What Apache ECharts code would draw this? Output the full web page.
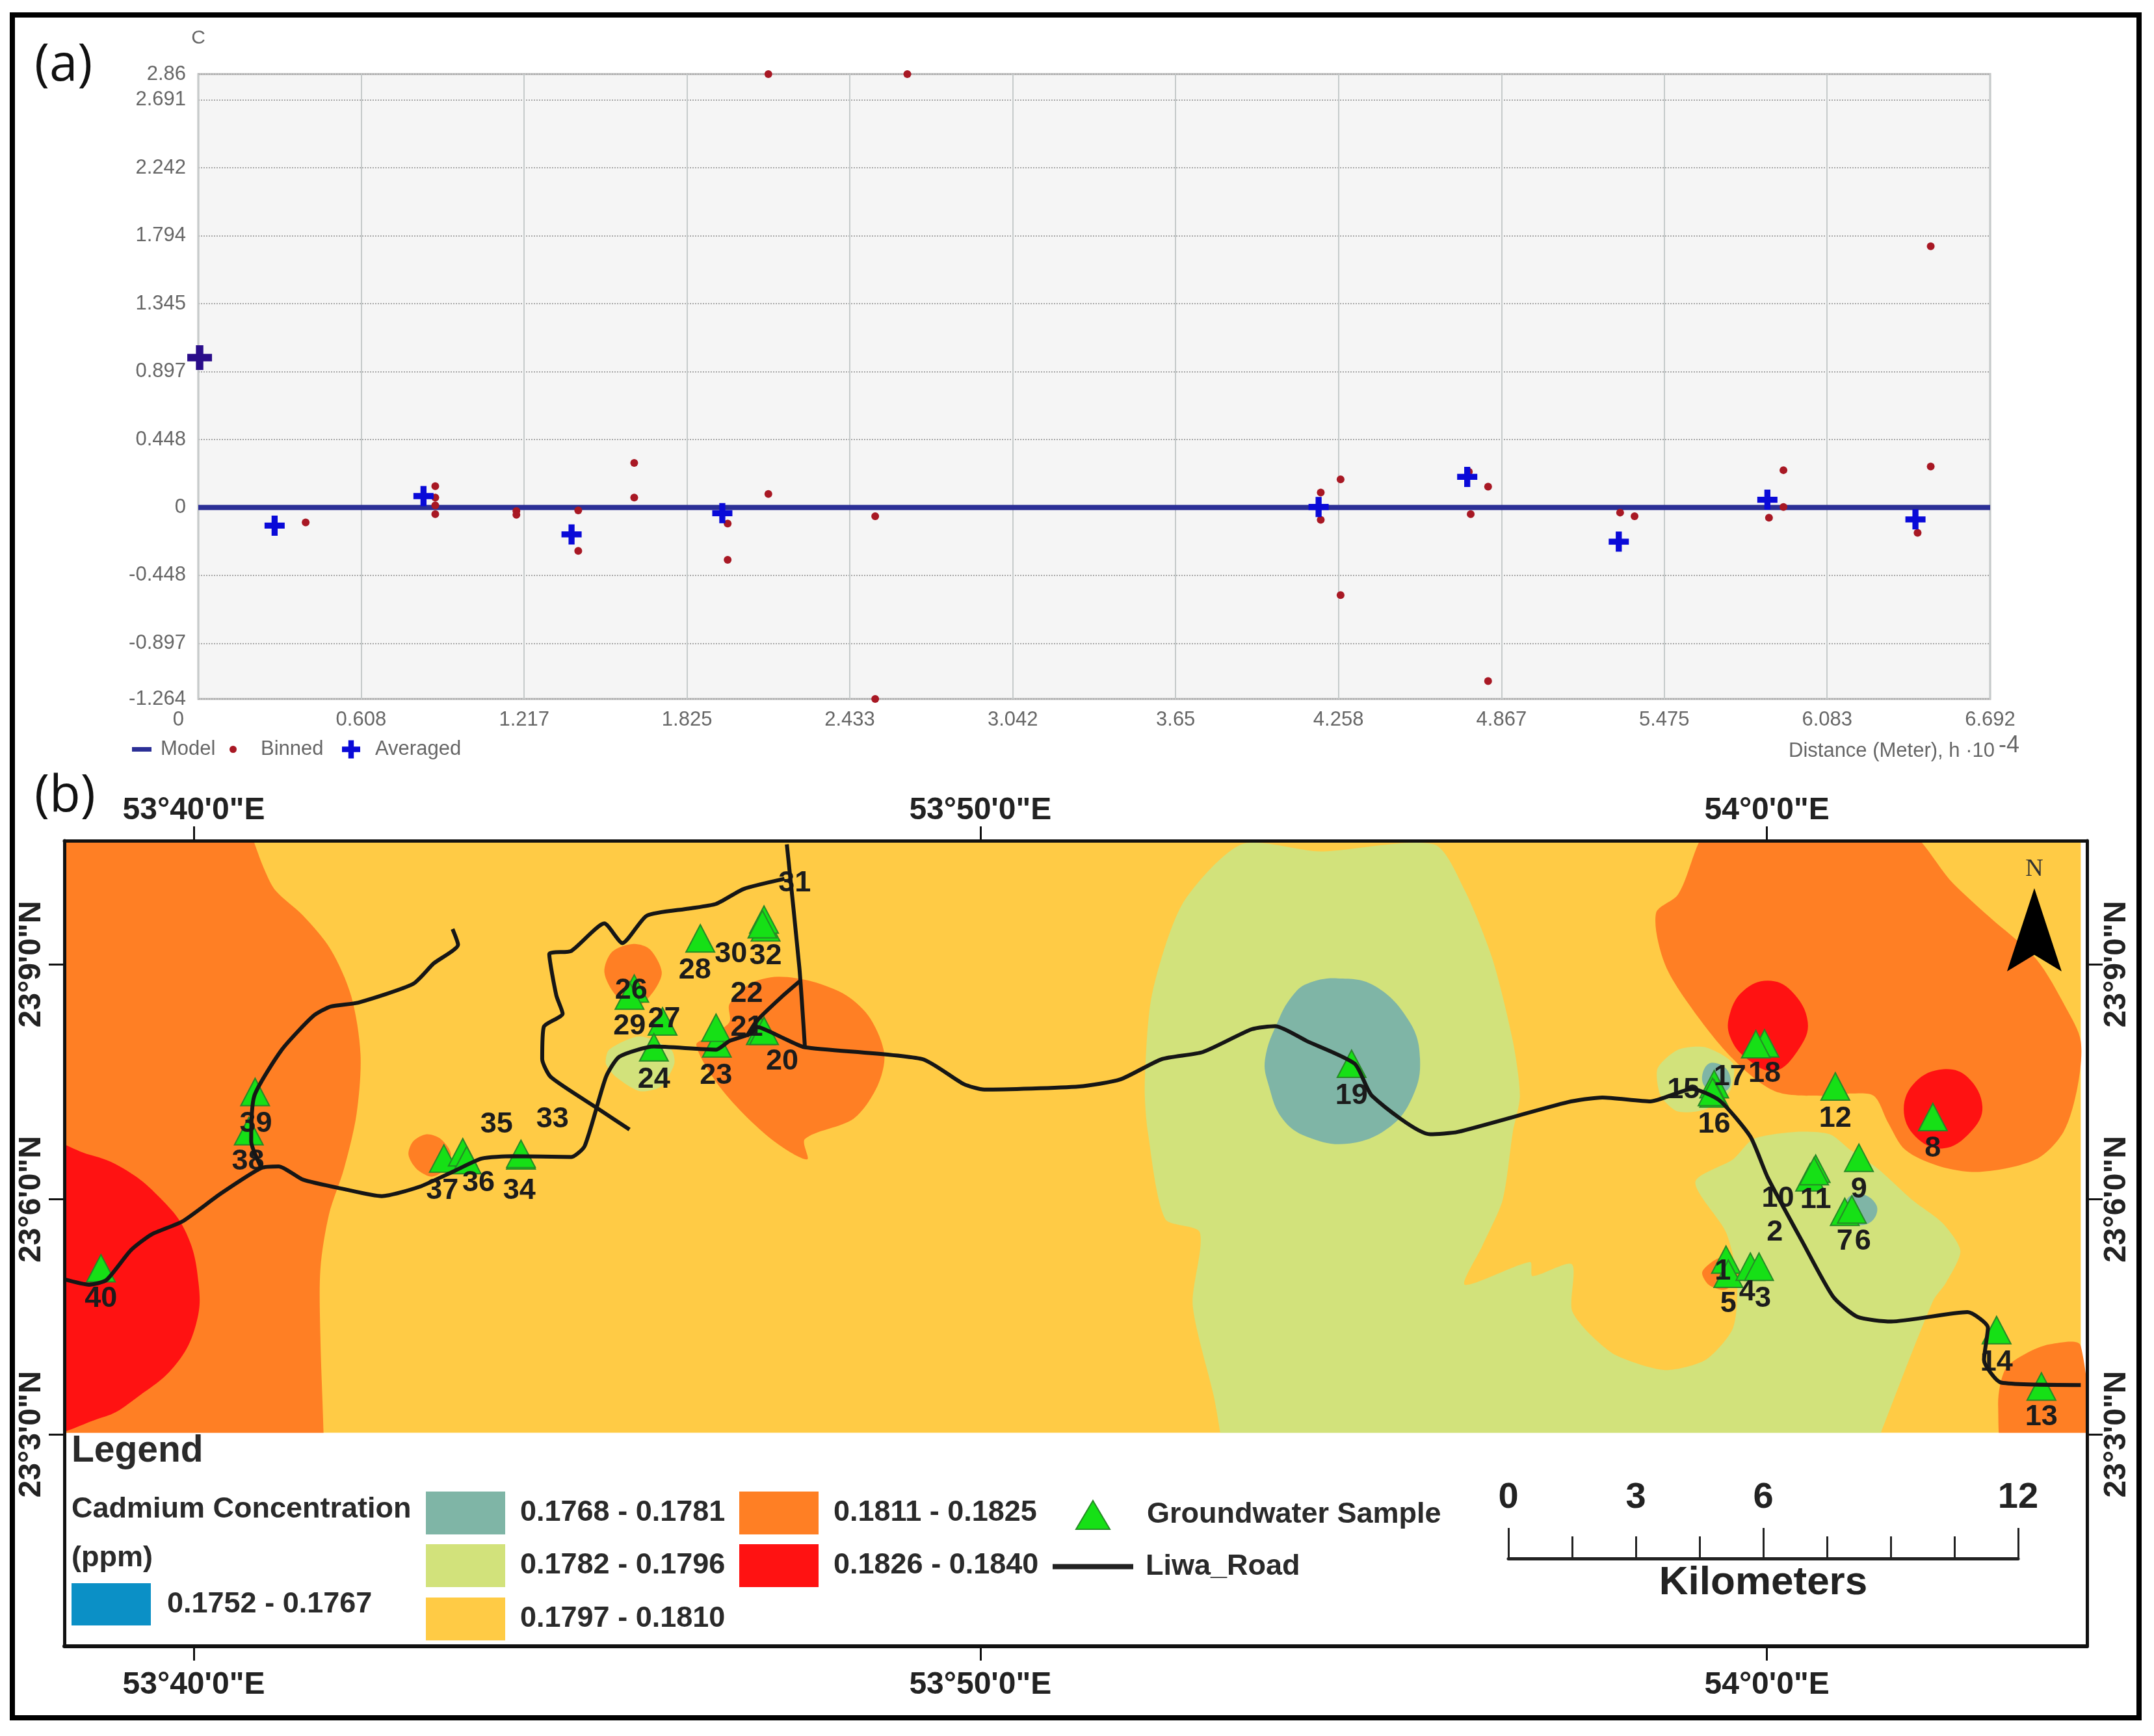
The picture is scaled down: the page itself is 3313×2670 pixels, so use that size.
<!DOCTYPE html>
<html>
<head>
    <meta charset="utf-8">
    <title>Cadmium semivariogram and map</title>
    <script src="https://cdn.jsdelivr.net/npm/echarts@6/dist/echarts.min.js"></script>
    <style>
        html, body { margin: 0; padding: 0; background: #fff; }
        #chart { width: 3313px; height: 2670px; }
    </style>
</head>
<body>
<div id="chart"></div>
<script>
    // (a) semivariogram, values
    var distTicks = [0, 0.608, 1.217, 1.825, 2.433, 3.042, 3.65, 4.258, 4.867, 5.475, 6.083, 6.692];
    var gammaTicks = [-1.264, -0.897, -0.448, 0, 0.448, 0.897, 1.345, 1.794, 2.242, 2.691, 2.86];
    var modelLine = [[0, 0], [6.692, 0]];
    var binned = [
        [0.005, 0.989], [0.401, -0.099], [0.885, 0.14], [0.885, 0.065], [0.885, 0.014], [0.885, -0.044],
        [1.188, -0.024], [1.188, -0.048], [1.419, -0.02], [1.419, -0.287], [1.628, 0.294], [1.628, 0.065],
        [1.977, -0.106], [1.977, -0.346], [2.129, 2.86], [2.129, 0.089], [2.648, 2.86], [2.528, -0.058],
        [2.528, -1.264], [4.192, 0.099], [4.192, -0.082], [4.266, 0.185], [4.266, -0.578], [4.745, 0.236],
        [4.752, -0.044], [4.817, 0.137], [4.817, -1.146], [5.31, -0.034], [5.364, -0.058], [5.866, -0.068],
        [5.92, 0.246], [5.92, 0.003], [6.421, -0.168], [6.47, 1.724], [6.47, 0.27]
    ];
    var averaged = [
        [0.005, 0.989], [0.285, -0.12], [0.841, 0.075], [1.394, -0.178], [1.957, -0.038], [4.184, 0.003],
        [4.739, 0.202], [5.305, -0.226], [5.86, 0.051], [6.413, -0.079]
    ];

    // (b) map, x = minutes past 53 deg E, y = minutes past 23 deg N
    var lonTicks = [40, 50, 60];
    var lonTickLabels = ['53°40\'0"E', '53°50\'0"E', '54°0\'0"E'];
    var latTicks = [3, 6, 9];
    var latTickLabels = ['23°3\'0"N', '23°6\'0"N', '23°9\'0"N'];

    var zoneYellow = [[[38.355, 10.577], [63.99, 10.577], [63.99, 3.02], [38.355, 3.02]]];
    var zoneGreen = [
        [[53.32, 10.53], [54.32, 10.44], [55.77, 10.53], [56.16, 9.94], [56.51, 9.07], [56.77, 8.02], [56.86, 7.32], [56.77, 6.86],
            [56.64, 5.99], [56.38, 5.40], [56.16, 4.91], [56.99, 5.20], [57.02, 5.02], [57.52, 5.17], [57.52, 4.59], [57.73, 4.30],
            [58.08, 4.01], [58.70, 3.82], [59.22, 3.95], [59.57, 4.36], [59.62, 4.99], [59.48, 5.58], [59.09, 6.22], [59.57, 6.51],
            [59.83, 6.77], [60.36, 6.86], [60.80, 6.83], [61.06, 6.63], [61.41, 6.39], [61.85, 5.99], [62.24, 5.69], [62.46, 5.34],
            [62.28, 4.94], [62.11, 4.70], [61.45, 3.02], [61.3, 2.6], [53.1, 2.6], [53.05, 3.02], [52.97, 3.48], [52.70, 4.65], [52.79, 5.58],
            [52.35, 5.75], [52.13, 6.86], [52.09, 7.44], [52.18, 8.60], [52.57, 9.77]],
        [[45.28, 7.91], [45.67, 8.08], [46.07, 7.91], [46.11, 7.73], [45.94, 7.44], [45.67, 7.38], [45.37, 7.56], [45.24, 7.73]],
        [[58.61, 7.67], [58.87, 7.91], [59.22, 7.94], [59.57, 7.73], [59.53, 7.38], [59.22, 7.15], [58.87, 7.12], [58.65, 7.32]]
    ];
    var zoneOrange = [
        [[38.0, 10.8], [40.7, 10.8], [40.76, 10.58], [40.91, 10.18], [41.04, 9.94], [41.39, 9.62], [41.74, 9.19], [42.00, 8.60], [42.12, 7.85],
            [42.07, 7.09], [41.91, 6.39], [41.72, 5.81], [41.61, 5.11], [41.61, 4.24], [41.65, 3.02], [41.65, 2.6], [38.0, 2.6]],
        [[42.96, 6.83], [43.14, 6.77], [43.27, 6.57], [43.14, 6.34], [43.01, 6.29], [42.83, 6.39], [42.73, 6.57], [42.79, 6.74]],
        [[45.59, 9.26], [45.80, 9.19], [45.95, 8.90], [45.85, 8.66], [45.63, 8.46], [45.37, 8.60], [45.22, 8.90], [45.32, 9.16]],
        [[46.81, 8.49], [47.07, 8.75], [47.42, 8.84], [47.86, 8.78], [48.30, 8.60], [48.60, 8.31], [48.78, 7.85], [48.69, 7.44], [48.39, 7.03],
            [47.77, 6.77], [47.80, 6.51], [47.42, 6.71], [46.99, 7.09], [46.64, 7.50], [46.39, 7.97], [46.55, 8.08], [46.81, 8.26]],
        [[59.35, 10.8], [61.65, 10.8], [62.37, 10.03], [62.81, 9.62], [63.42, 9.07], [63.81, 8.43], [63.99, 8.02], [63.95, 7.44], [63.77, 6.86],
            [63.42, 6.51], [62.72, 6.35], [62.20, 6.42], [61.76, 6.63], [61.54, 6.98], [61.36, 7.32], [61.06, 7.35], [60.71, 7.32], [60.10, 7.38],
            [59.57, 7.79], [59.05, 8.43], [58.70, 9.01], [58.59, 9.65], [58.87, 9.89]],
        [[59.44, 5.26], [59.18, 5.08], [59.26, 4.91], [59.48, 4.85], [59.66, 5.05]],
        [[63.60, 4.15], [63.99, 4.13], [63.99, 2.6], [63.07, 2.6], [62.94, 3.36], [63.03, 3.83], [63.29, 4.03]]
    ];
    var zoneRed = [
        [[38.0, 6.7], [38.67, 6.57], [39.11, 6.39], [39.55, 6.04], [39.90, 5.58], [40.06, 4.94], [40.03, 4.41], [39.77, 3.89], [39.29, 3.48], [38.85, 3.22], [38.0, 3.1]],
        [[60.01, 8.79], [60.31, 8.66], [60.52, 8.26], [60.40, 7.91], [60.10, 7.64], [59.75, 7.79], [59.53, 8.08], [59.53, 8.37], [59.70, 8.66]],
        [[62.24, 7.66], [62.55, 7.56], [62.74, 7.18], [62.59, 6.86], [62.24, 6.65], [61.89, 6.80], [61.74, 7.15], [61.89, 7.50]]
    ];
    var zoneTeal = [
        [[54.15, 8.75], [54.54, 8.82], [55.02, 8.72], [55.46, 8.26], [55.59, 7.79], [55.50, 7.32], [55.20, 6.92], [54.67, 6.71], [54.15, 6.80],
            [53.84, 7.03], [53.67, 7.44], [53.62, 7.79], [53.80, 8.31], [53.97, 8.60]],
        [[59.26, 7.73], [59.48, 7.67], [59.53, 7.44], [59.35, 7.35], [59.18, 7.50]],
        [[61.19, 6.07], [61.39, 5.93], [61.36, 5.75], [61.19, 5.67], [61.01, 5.75], [61.01, 5.99]]
    ];
    var zoneBlue = [];
    var legendBand = [[[38.355, 3.02], [64.07, 3.02], [64.07, 0.295], [38.355, 0.295]]];

    var roadMain = [
        [38.35, 4.98], [38.67, 4.91], [38.89, 4.97], [39.20, 5.35], [39.46, 5.55], [39.86, 5.72], [40.34, 6.07], [40.86, 6.40], [41.08, 6.42],
        [41.39, 6.25], [41.91, 6.13], [42.39, 6.04], [42.87, 6.16], [43.31, 6.36], [43.66, 6.52], [44.05, 6.55], [44.80, 6.54], [44.97, 6.68],
        [45.24, 7.56], [45.41, 7.82], [45.85, 7.95], [46.64, 7.91], [46.81, 8.02], [47.07, 8.11], [47.16, 8.20], [47.51, 8.05], [47.77, 7.94],
        [49.26, 7.79], [49.79, 7.47], [50.05, 7.40], [51.26, 7.44], [51.78, 7.53], [52.31, 7.79], [52.83, 7.88], [53.45, 8.17], [53.75, 8.21],
        [54.15, 8.02], [54.76, 7.73], [54.98, 7.32], [55.72, 6.83], [56.07, 6.86], [57.47, 7.24], [57.91, 7.30], [58.52, 7.25], [59.05, 7.41],
        [59.40, 7.26], [59.79, 6.80], [60.01, 6.28], [60.45, 5.46], [60.84, 4.76], [61.15, 4.50], [61.58, 4.44], [62.55, 4.56], [62.81, 4.36],
        [62.76, 3.95], [62.98, 3.66], [63.99, 3.63]
    ];
    var roadNorthWest = [
        [40.86, 6.40], [40.73, 6.74], [40.77, 7.32], [41.12, 7.91], [41.52, 8.34], [41.74, 8.46], [42.09, 8.51], [42.79, 8.75], [43.05, 9.01], [43.36, 9.25], [43.29, 9.45]
    ];
    var roadLoop = [
        [45.54, 6.89], [45.15, 7.15], [44.54, 7.56], [44.43, 7.79], [44.45, 8.20], [44.69, 8.37], [44.61, 8.60], [44.52, 9.13], [44.80, 9.17],
        [45.22, 9.52], [45.45, 9.27], [45.76, 9.62], [46.29, 9.71], [46.64, 9.77], [46.99, 9.96], [47.51, 10.09]
    ];
    var roadNorth = [[47.54, 10.53], [47.70, 8.95], [47.77, 7.94]];
    var roadLink = [[47.70, 8.78], [47.47, 8.58], [47.16, 8.28], [47.03, 8.08]];

    var samples = [
        [38.82, 5.12], [40.78, 7.37], [40.70, 6.87], [43.18, 6.52], [43.42, 6.60], [43.47, 6.50], [44.16, 6.56], [44.16, 6.58], [47.27, 9.47],
        [47.25, 9.57], [47.23, 9.51], [46.44, 9.33], [45.60, 8.69], [45.54, 8.60], [45.96, 8.27], [45.85, 7.94], [46.65, 7.99], [46.64, 8.19],
        [47.21, 8.15], [47.25, 8.15], [54.72, 7.73], [59.97, 7.99], [59.86, 7.98], [59.33, 7.47], [59.33, 7.35], [59.31, 7.37], [60.87, 7.44],
        [62.11, 7.05], [61.17, 6.53], [60.62, 6.39], [60.55, 6.28], [60.60, 6.36], [60.99, 5.84], [61.08, 5.87], [59.48, 5.23], [59.51, 5.05],
        [59.79, 5.14], [59.90, 5.14], [62.92, 4.33], [63.49, 3.61]
    ];
    var sampleLabels = [
        [38.82, 4.73, '40'], [40.79, 6.96, '39'], [40.69, 6.48, '38'], [43.16, 6.11, '37'], [43.62, 6.21, '36'], [43.85, 6.95, '35'], [44.14, 6.11, '34'],
        [44.56, 7.02, '33'], [47.27, 9.10, '32'], [47.64, 10.03, '31'], [46.83, 9.13, '30'], [46.37, 8.92, '28'], [45.56, 8.66, '26'], [45.54, 8.21, '29'],
        [45.98, 8.30, '27'], [45.85, 7.53, '24'], [46.64, 7.58, '23'], [47.03, 8.62, '22'], [47.03, 8.19, '21'], [47.48, 7.76, '20'], [54.72, 7.32, '19'],
        [59.97, 7.60, '18'], [59.53, 7.56, '17'], [59.33, 6.95, '16'], [58.94, 7.39, '15'], [60.87, 7.03, '12'], [62.11, 6.65, '8'], [61.17, 6.12, '9'],
        [60.14, 6.01, '10'], [60.62, 5.99, '11'], [60.10, 5.58, '2'], [60.99, 5.46, '7'], [61.22, 5.46, '6'], [59.44, 5.08, '1'], [59.51, 4.66, '5'],
        [59.75, 4.81, '4'], [59.95, 4.73, '3'], [62.92, 3.92, '14'], [63.49, 3.22, '13']
    ];
    var northArrowAt = [[63.40, 9.44]];

    // scale bar
    var scaleTicks = [0, 3, 6, 12];

    var narrow = '"Liberation Sans",Arial,sans-serif';
    var sans = '"Liberation Sans",Arial,sans-serif';
    var plusPath = 'path://M35 0H65V35H100V65H65V100H35V65H0V35H35Z';

    function zoneSeries(name, color, polys, smooth) {
        return {
            type: 'custom',
            name: name,
            coordinateSystem: 'cartesian2d',
            xAxisIndex: 1,
            yAxisIndex: 1,
            clip: true,
            silent: true,
            itemStyle: {color: color},
            data: polys.map(function (p, i) { return [p[0][0], p[0][1], i]; }),
            renderItem: function (params, api) {
                var pts = polys[api.value(2)].map(function (pt) { return api.coord(pt); });
                return {type: 'polygon', shape: {points: pts, smooth: smooth}, style: {fill: color}};
            }
        };
    }

    function roadSeries(pts) {
        return {
            type: 'line',
            name: 'Liwa_Road',
            xAxisIndex: 1,
            yAxisIndex: 1,
            data: pts,
            smooth: 0.2,
            showSymbol: false,
            silent: true,
            lineStyle: {color: '#161616', width: 6},
            itemStyle: {color: '#222'}
        };
    }

    function legendAt(name, left, top, w, h, icon, textStyle, gap) {
        return {
            data: [{name: name, icon: icon}],
            left: left,
            top: top,
            padding: 0,
            itemWidth: w,
            itemHeight: h,
            selectedMode: false,
            textStyle: Object.assign({padding: [0, 0, 0, gap]}, textStyle)
        };
    }

    var smallGrey = {fontFamily: narrow, fontSize: 31, color: '#666'};
    var mapText = {fontFamily: sans, fontSize: 45, fontWeight: 'bold', color: '#2a2a2a'};

    var option = {
        backgroundColor: '#fff',
        animation: false,
        grid: [
            {left: 305, top: 114, width: 2756, height: 961, show: true, backgroundColor: '#f5f5f5', borderColor: '#bdbdbd', borderWidth: 3},
            {left: 99, top: 1293, width: 3111, height: 1239},
            {left: 2320, top: 2350, width: 784, height: 47}
        ],
        xAxis: [
            {
                gridIndex: 0, type: 'value', min: 0, max: 6.692,
                axisLine: {show: false, onZero: false},
                axisTick: {show: false, customValues: distTicks},
                axisLabel: Object.assign({
                    customValues: distTicks, margin: 17, alignMinLabel: 'right', showMinLabel: true, showMaxLabel: true, hideOverlap: false,
                    formatter: function (v) { return v === 0 ? '{zero|0}' : String(v); },
                    rich: {zero: {fontFamily: narrow, fontSize: 31, color: '#666', padding: [0, 22, 0, 0]}}
                }, smallGrey),
                splitLine: {show: true, lineStyle: {color: '#c6cbcb', width: 2}},
                name: 'Distance (Meter), h ·10{sup|-4}',
                nameLocation: 'end',
                nameGap: 45,
                nameTextStyle: {
                    fontFamily: narrow, fontSize: 31, color: '#666', align: 'right', verticalAlign: 'top', padding: [54, 0, 0, 0],
                    rich: {sup: {fontFamily: narrow, fontSize: 36, color: '#666', padding: [0, 0, 16, 6]}}
                }
            },
            {
                gridIndex: 1, type: 'value', min: 38.355, max: 64.07, position: 'bottom', z: 10,
                axisLine: {lineStyle: {color: '#111', width: 6}},
                axisTick: {length: 22, customValues: lonTicks, lineStyle: {color: '#111', width: 3}},
                axisLabel: {
                    customValues: lonTicks, margin: 36, fontFamily: sans, fontSize: 48, fontWeight: 'bold', color: '#222',
                    formatter: function (v) { return lonTickLabels[lonTicks.indexOf(v)]; }
                },
                splitLine: {show: false}
            },
            {
                gridIndex: 1, type: 'value', min: 38.355, max: 64.07, position: 'top', z: 10,
                axisLine: {lineStyle: {color: '#111', width: 5}},
                axisTick: {length: 22, customValues: lonTicks, lineStyle: {color: '#111', width: 3}},
                axisLabel: {
                    customValues: lonTicks, margin: 22, fontFamily: sans, fontSize: 48, fontWeight: 'bold', color: '#222',
                    formatter: function (v) { return lonTickLabels[lonTicks.indexOf(v)]; }
                },
                splitLine: {show: false}
            },
            {
                gridIndex: 2, type: 'value', min: 0, max: 12, interval: 6, position: 'bottom', z: 10,
                axisLine: {lineStyle: {color: '#222', width: 5}},
                axisTick: {inside: true, length: 47, lineStyle: {color: '#222', width: 3}},
                minorTick: {show: true, splitNumber: 4, length: 34, lineStyle: {color: '#222', width: 3}},
                axisLabel: {show: false},
                splitLine: {show: false},
                name: 'Kilometers',
                nameLocation: 'middle',
                nameGap: 38,
                nameTextStyle: {fontFamily: sans, fontSize: 62, fontWeight: 'bold', color: '#222', verticalAlign: 'middle'}
            },
            {
                gridIndex: 2, type: 'value', min: 0, max: 12, position: 'top', z: 10,
                axisLine: {show: false},
                axisTick: {show: false},
                axisLabel: {customValues: scaleTicks, margin: 18, fontFamily: sans, fontSize: 56, fontWeight: 'bold', color: '#222'},
                splitLine: {show: false}
            }
        ],
        yAxis: [
            {
                gridIndex: 0, type: 'value', min: -1.264, max: 2.86,
                axisLine: {show: false},
                axisTick: {show: false, customValues: gammaTicks},
                axisLabel: Object.assign({customValues: gammaTicks, margin: 19}, smallGrey),
                splitLine: {show: true, lineStyle: {color: '#a8a8a8', width: 2, type: 'dotted'}},
                name: 'C',
                nameLocation: 'end',
                nameGap: 40,
                nameTextStyle: {fontFamily: narrow, fontSize: 30, color: '#666'}
            },
            {
                gridIndex: 1, type: 'value', min: 0.295, max: 10.577, position: 'left', z: 10,
                axisLine: {lineStyle: {color: '#111', width: 5}},
                axisTick: {length: 24, customValues: latTicks, lineStyle: {color: '#111', width: 3}},
                axisLabel: {
                    customValues: latTicks, rotate: 90, margin: 26, fontFamily: sans, fontSize: 48, fontWeight: 'bold', color: '#222',
                    formatter: function (v) { return latTickLabels[latTicks.indexOf(v)]; }
                },
                splitLine: {show: false}
            },
            {
                gridIndex: 1, type: 'value', min: 0.295, max: 10.577, position: 'right', z: 10,
                axisLine: {lineStyle: {color: '#111', width: 5}},
                axisTick: {length: 24, customValues: latTicks, lineStyle: {color: '#111', width: 3}},
                axisLabel: {
                    customValues: latTicks, rotate: 90, margin: 22, fontFamily: sans, fontSize: 48, fontWeight: 'bold', color: '#222',
                    formatter: function (v) { return latTickLabels[latTicks.indexOf(v)]; }
                },
                splitLine: {show: false}
            },
            {gridIndex: 2, type: 'value', min: 0, max: 1, show: false}
        ],
        legend: [
            legendAt('Model', 203, 1137, 30, 7, 'rect', smallGrey, 9),
            legendAt('Binned', 353, 1137, 11, 11, 'circle', smallGrey, 32),
            legendAt('Averaged', 526, 1137, 28, 28, plusPath, smallGrey, 18),
            legendAt('0.1752 - 0.1767', 110, 2435, 122, 65, 'rect', mapText, 20),
            legendAt('0.1768 - 0.1781', 655, 2294, 122, 66, 'rect', mapText, 18),
            legendAt('0.1782 - 0.1796', 655, 2375, 122, 66, 'rect', mapText, 18),
            legendAt('0.1797 - 0.1810', 655, 2457, 122, 66, 'rect', mapText, 18),
            legendAt('0.1811 - 0.1825', 1137, 2294, 122, 66, 'rect', mapText, 18),
            legendAt('0.1826 - 0.1840', 1137, 2375, 122, 66, 'rect', mapText, 18),
            legendAt('Groundwater Sample', 1654, 2307, 52, 44, 'triangle', mapText, 52),
            legendAt('Liwa_Road', 1619, 2387, 124, 8, 'rect', mapText, 14)
        ],
        series: [
            {
                type: 'line', name: 'Model', xAxisIndex: 0, yAxisIndex: 0, data: modelLine, showSymbol: false, silent: true,
                lineStyle: {color: '#2b2f96', width: 8}, itemStyle: {color: '#2b2f96'}, z: 3
            },
            {
                type: 'scatter', name: 'Binned', xAxisIndex: 0, yAxisIndex: 0, data: binned, symbolSize: 12, clip: false, silent: true,
                itemStyle: {color: '#a81824', opacity: 1}, z: 4
            },
            {
                type: 'scatter', name: 'Averaged', xAxisIndex: 0, yAxisIndex: 0, symbol: plusPath, symbolSize: 31, clip: false, silent: true,
                data: averaged.map(function (d, i) {
                    return i === 0 ? {value: d, symbolSize: 38, itemStyle: {color: '#2a0d8a', opacity: 1}} : {value: d};
                }),
                itemStyle: {color: '#0a0ad8', opacity: 1}, z: 5
            },
            zoneSeries('yellow', '#ffcb45', zoneYellow, 0),
            zoneSeries('0.1782 - 0.1796', '#d2e27b', zoneGreen, 0.25),
            zoneSeries('0.1811 - 0.1825', '#ff7f24', zoneOrange, 0.3),
            zoneSeries('0.1826 - 0.1840', '#ff1212', zoneRed, 0.4),
            zoneSeries('0.1768 - 0.1781', '#7fb5a6', zoneTeal, 0.4),
            zoneSeries('0.1752 - 0.1767', '#0b90c6', zoneBlue, 0),
            zoneSeries('0.1797 - 0.1810', '#ffcb45', [], 0),
            zoneSeries('legend band', '#fff', legendBand, 0),
            roadSeries(roadMain),
            roadSeries(roadNorthWest),
            roadSeries(roadLoop),
            roadSeries(roadNorth),
            roadSeries(roadLink),
            {
                type: 'scatter', name: 'Groundwater Sample', xAxisIndex: 1, yAxisIndex: 1, data: samples, symbol: 'triangle', symbolSize: [44, 42], silent: true,
                itemStyle: {color: '#16e016', borderColor: '#268a26', borderWidth: 2, opacity: 1}
            },
            {
                type: 'scatter', name: 'sample numbers', xAxisIndex: 1, yAxisIndex: 1, data: sampleLabels, symbolSize: 0, silent: true,
                itemStyle: {opacity: 1},
                label: {
                    show: true, position: 'inside', fontFamily: sans, fontSize: 45, fontWeight: 'bold', color: '#1c1c1c',
                    formatter: function (p) { return p.value[2]; }
                }
            },
            {
                type: 'scatter', name: 'north', xAxisIndex: 1, yAxisIndex: 1, data: northArrowAt, symbol: 'path://M50 0L100 100L50 80L0 100Z', symbolSize: [84, 128], silent: true,
                itemStyle: {color: '#000', opacity: 1},
                label: {show: true, position: 'top', distance: 10, formatter: 'N', fontFamily: '"Liberation Serif",serif', fontSize: 38, color: '#333'}
            }
        ],
        graphic: [
            {type: 'rect', shape: {x: 19, y: 23, width: 3271, height: 2619}, style: {fill: 'none', stroke: '#000', lineWidth: 8}, silent: true},
            {type: 'text', x: 53, y: 102, style: {text: '(a)', fontFamily: '"Open Sans",sans-serif', fontSize: 78, fill: '#111', verticalAlign: 'middle'}, silent: true},
            {type: 'text', x: 53, y: 1226, style: {text: '(b)', fontFamily: '"Open Sans",sans-serif', fontSize: 78, fill: '#111', verticalAlign: 'middle'}, silent: true},
            {type: 'text', x: 110, y: 2232, z: 20, style: {text: 'Legend', fontFamily: sans, fontSize: 57, fontWeight: 'bold', fill: '#2a2a2a', verticalAlign: 'middle'}, silent: true},
            {type: 'text', x: 110, y: 2322, z: 20, style: {text: 'Cadmium Concentration', fontFamily: sans, fontSize: 45, fontWeight: 'bold', fill: '#2a2a2a', verticalAlign: 'middle'}, silent: true},
            {type: 'text', x: 110, y: 2397, z: 20, style: {text: '(ppm)', fontFamily: sans, fontSize: 45, fontWeight: 'bold', fill: '#2a2a2a', verticalAlign: 'middle'}, silent: true}
        ]
    };

    var chart = echarts.init(document.getElementById('chart'));
    chart.setOption(option);
</script>
</body>
</html>
